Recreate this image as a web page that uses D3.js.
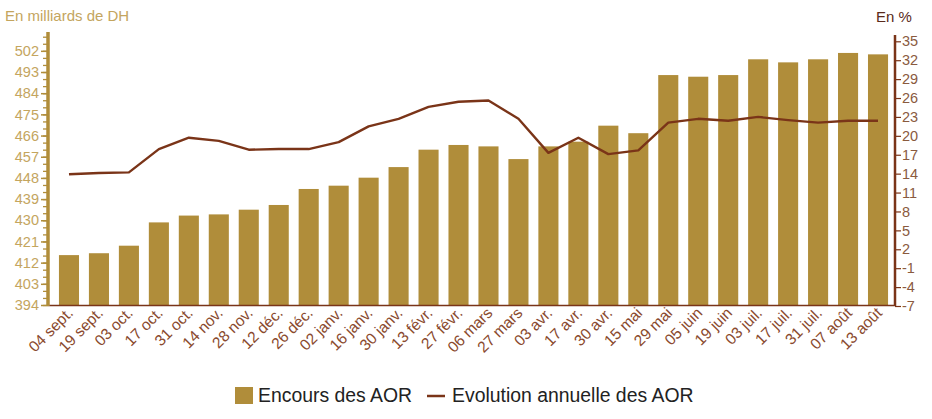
<!DOCTYPE html>
<html>
<head>
<meta charset="utf-8">
<script src="https://cdn.jsdelivr.net/npm/d3@7"></script>
<style>
	body { margin: 0; background: #fff; }
	text { font-family: "Liberation Sans", Arial, sans-serif; }
</style>
</head>
<body>
<div id="chart"></div>
<script>
const dates = ["04 sept.", "19 sept.", "03 oct.", "17 oct.", "31 oct.", "14 nov.", "28 nov.", "12 déc.", "26 déc.",
	"02 janv.", "16 janv.", "30 janv.", "13 févr.", "27 févr.", "06 mars", "27 mars", "03 avr.", "17 avr.", "30 avr.",
	"15 mai", "29 mai", "05 juin", "19 juin", "03 juil.", "17 juil.", "31 juil.", "07 août", "13 août"];

// Encours des AOR (milliards de DH)
const encours = [415.2, 416.0, 419.2, 429.1, 432.0, 432.5, 434.5, 436.5, 443.3,
	444.7, 448.1, 452.6, 460.0, 462.0, 461.4, 456.0, 461.4, 463.4, 470.2,
	467.0, 491.7, 491.0, 491.7, 498.4, 497.1, 498.4, 501.1, 500.5];

// Evolution annuelle des AOR (%)
const evolution = [13.9, 14.1, 14.2, 17.9, 19.7, 19.2, 17.8, 17.9, 17.9,
	19.0, 21.5, 22.7, 24.6, 25.4, 25.6, 22.7, 17.3, 19.7, 17.1,
	17.7, 22.1, 22.7, 22.4, 23.0, 22.5, 22.1, 22.4, 22.4];

const leftTicks = [394, 403, 412, 421, 430, 439, 448, 457, 466, 475, 484, 493, 502];
const rightTicks = [-7, -4, -1, 2, 5, 8, 11, 14, 17, 20, 23, 26, 29, 32, 35];

const width = 932;
const height = 419;
const barColor = "#b08d3a";
const lineColor = "#7a3418";

const svg = d3.select("#chart").append("svg")
	.attr("width", width)
	.attr("height", height);

const plotLeft = 48, plotRight = 895, plotTop = 32, plotBottom = 305;

const xScale = d3.scaleBand()
	.domain(dates)
	.range([54, 893])
	.paddingInner(0.33)
	.paddingOuter(0.165);

const yLeft = d3.scaleLinear()
	.domain([394, 510])
	.range([plotBottom, plotTop]);

const yRight = d3.scaleLinear()
	.domain([-7, 36])
	.range([plotBottom + 1, plotTop + 3]);

// Bars
svg.append("g")
	.selectAll("rect")
	.data(encours)
	.join("rect")
	.attr("x", (d, i) => xScale(dates[i]))
	.attr("y", d => yLeft(d))
	.attr("width", xScale.bandwidth())
	.attr("height", d => yLeft(394) - yLeft(d))
	.attr("fill", barColor);

// Line
const line = d3.line()
	.x((d, i) => xScale(dates[i]) + xScale.bandwidth() / 2)
	.y(d => yRight(d));

svg.append("path")
	.attr("d", line(evolution))
	.attr("fill", "none")
	.attr("stroke", lineColor)
	.attr("stroke-width", 2.4)
	.attr("stroke-linejoin", "round");

// X baseline
svg.append("line")
	.attr("x1", plotLeft)
	.attr("x2", plotRight)
	.attr("y1", plotBottom + 0.5)
	.attr("y2", plotBottom + 0.5)
	.attr("stroke", lineColor)
	.attr("stroke-width", 1.5);

// Left axis with minor ticks
const leftMinor = svg.append("g")
	.attr("transform", `translate(${plotLeft},0)`)
	.call(d3.axisLeft(yLeft).tickValues(d3.range(394, 509, 3)).tickSize(5).tickFormat(""));
leftMinor.select(".domain").remove();
leftMinor.selectAll("line").attr("stroke", barColor).attr("stroke-width", 1.3);

const leftAxis = svg.append("g")
	.attr("transform", `translate(${plotLeft},0)`)
	.call(d3.axisLeft(yLeft).tickValues(leftTicks).tickSize(7).tickPadding(2));
leftAxis.select(".domain")
	.attr("d", `M0,${plotTop}V${plotBottom + 1}`)
	.attr("stroke", barColor)
	.attr("stroke-width", 3.5);
leftAxis.selectAll(".tick line").attr("stroke", barColor).attr("stroke-width", 1.5);
leftAxis.selectAll("text")
	.attr("fill", "#c4a55e")
	.attr("font-size", "14.5px")
	.attr("font-family", "'Liberation Sans', Arial, sans-serif");

// Right axis
const rightAxis = svg.append("g")
	.attr("transform", `translate(${plotRight},0)`)
	.call(d3.axisRight(yRight).tickValues(rightTicks).tickSize(6).tickPadding(1).tickFormat(d => d));
rightAxis.select(".domain")
	.attr("d", `M0,${plotTop + 3}V${plotBottom + 1}`)
	.attr("stroke", lineColor)
	.attr("stroke-width", 2.5);
rightAxis.selectAll(".tick line").attr("stroke", lineColor).attr("stroke-width", 1.2);
rightAxis.selectAll("text")
	.attr("fill", "#8a5a3e")
	.attr("font-size", "14.5px")
	.attr("font-family", "'Liberation Sans', Arial, sans-serif");

// X labels
svg.append("g")
	.selectAll("text")
	.data(dates)
	.join("text")
	.attr("transform", d => `translate(${xScale(d) + xScale.bandwidth() / 2 + 5},${plotBottom + 9}) rotate(-45)`)
	.attr("text-anchor", "end")
	.attr("font-size", "15.5px")
	.attr("fill", "#8a4a2e")
	.text(d => d);

// Axis titles
svg.append("text")
	.attr("x", 5)
	.attr("y", 21)
	.attr("font-size", "15px")
	.attr("fill", "#c4a55e")
	.text("En milliards de DH");

svg.append("text")
	.attr("x", 876)
	.attr("y", 22)
	.attr("font-size", "15px")
	.attr("font-family", "'Liberation Serif', 'Times New Roman', serif")
	.attr("fill", "#5a2a1a")
	.text("En %");

// Legend
const legend = svg.append("g");
legend.append("rect")
	.attr("x", 235)
	.attr("y", 387)
	.attr("width", 18)
	.attr("height", 17)
	.attr("fill", barColor);
legend.append("text")
	.attr("x", 258)
	.attr("y", 402)
	.attr("font-size", "19.4px")
	.attr("fill", "#222")
	.text("Encours des AOR");
legend.append("line")
	.attr("x1", 427)
	.attr("x2", 445)
	.attr("y1", 396)
	.attr("y2", 396)
	.attr("stroke", lineColor)
	.attr("stroke-width", 2.5);
legend.append("text")
	.attr("x", 452)
	.attr("y", 402)
	.attr("font-size", "19.4px")
	.attr("fill", "#222")
	.text("Evolution annuelle des AOR");
</script>
</body>
</html>
